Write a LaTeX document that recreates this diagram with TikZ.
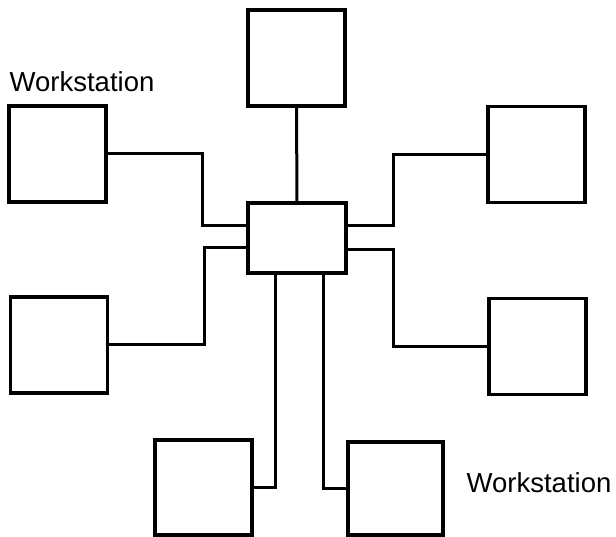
\documentclass[tikz,border=0pt]{standalone}
\usepackage{fontspec}
\setmainfont{Liberation Sans}
\begin{document}
\begin{tikzpicture}[x=1pt,y=-1pt,
  ws/.style={draw, line width=3.4pt, inner sep=0pt, outer sep=0pt, minimum width=97pt, minimum height=96pt},
  hub/.style={draw, line width=3.4pt, inner sep=0pt, outer sep=0pt, minimum width=98pt, minimum height=70pt},
  wire/.style={line width=3pt, line join=miter},
  lbl/.style={font=\fontsize{27.5}{32}\selectfont, inner sep=0pt}]
\useasboundingbox (0,0) rectangle (616,537);
\node[hub] (c) at (297,238) {};
\node[ws] (top) at (296.5,58) {};
\node[ws] (lt) at (57.5,154) {};
\node[ws] (lb) at (59,345) {};
\node[ws] (rt) at (536.5,154.5) {};
\node[ws] (rb) at (537.5,346.5) {};
\node[ws, minimum height=95pt] (bl) at (203.5,487.5) {};
\node[ws, minimum width=95pt, minimum height=93pt] (br) at (395.5,488.5) {};
\node[lbl] (l1) at (82,82) {Workstation};
\node[lbl] (l2) at (539,483) {Workstation};
\draw[wire] (top.south) -- (c.north);
\draw[wire] (lt.east) -- (202,154) -- (202,226) -- (c.west |- 0,226);
\draw[wire] (lb.east) -- (204,345) -- (204,248) -- (c.west |- 0,248);
\draw[wire] (rt.west) -- (393,154.5) -- (393,226) -- (c.east |- 0,226);
\draw[wire] (rb.west) -- (393,346.5) -- (393,250) -- (c.east |- 0,250);
\draw[wire] (bl.east) -- (275,487.5) -- (c.south -| 275,0);
\draw[wire] (br.west) -- (323,488.5) -- (c.south -| 323,0);
\end{tikzpicture}
\end{document}
